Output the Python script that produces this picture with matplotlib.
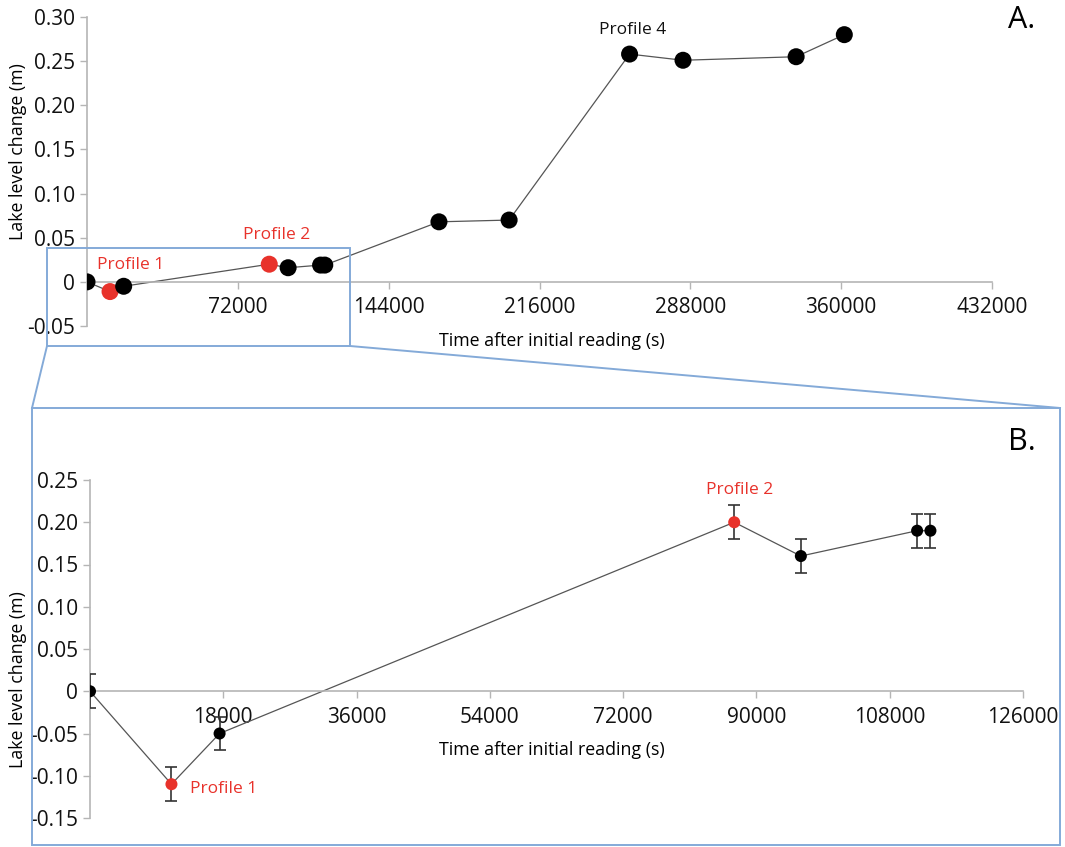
import matplotlib
matplotlib.use("Agg")
import matplotlib.pyplot as plt
from matplotlib.patches import Rectangle
from matplotlib.lines import Line2D

plt.rcParams['font.family'] = ['Open Sans', 'DejaVu Sans']

# ---------------- data ----------------
# Panel A (full record)
time_a = [0, 11000, 17500, 87000, 96000, 111500, 113500,
          168000, 201500, 259000, 284500, 338500, 361500]
level_a = [0.0, -0.011, -0.005, 0.020, 0.016, 0.019, 0.019,
           0.068, 0.070, 0.258, 0.251, 0.255, 0.280]
red_idx_a = [1, 3]          # Profile 1, Profile 2

# Panel B (zoom on first readings)
time_b = [0, 11000, 17500, 87000, 96000, 111700, 113500]
level_b = [0.0, -0.11, -0.05, 0.20, 0.16, 0.19, 0.19]
err_b = [0.02, 0.02, 0.02, 0.02, 0.02, 0.02, 0.02]
red_idx_b = [1, 3]

xticks_a = [72000, 144000, 216000, 288000, 360000, 432000]
xticklabels_a = ["72000", "144000", "216000", "288000", "360000", "432000"]
yticks_a = [-0.05, 0, 0.05, 0.10, 0.15, 0.20, 0.25, 0.30]
yticklabels_a = ["-0.05", "0", "0.05", "0.10", "0.15", "0.20", "0.25", "0.30"]

xticks_b = [18000, 36000, 54000, 72000, 90000, 108000, 126000]
xticklabels_b = ["18000", "36000", "54000", "72000", "90000", "108000", "126000"]
yticks_b = [-0.15, -0.10, -0.05, 0, 0.05, 0.10, 0.15, 0.20, 0.25]
yticklabels_b = ["-0.15", "-0.10", "-0.05", "0", "0.05", "0.10", "0.15", "0.20", "0.25"]

xlabel = "Time after initial reading (s)"
ylabel = "Lake level change (m)"

# ---------------- layout ----------------
W, H = 1065, 847
fig = plt.figure(figsize=(W / 100, H / 100), dpi=100)


def px_axes(x0, y0, x1, y1):
    return fig.add_axes([x0 / W, 1 - y1 / H, (x1 - x0) / W, (y1 - y0) / H])


RED = "#e8322b"
SPINE = "#b5b5b5"
LINE = "#555555"
BLUE = "#84aad8"


def style_axes(ax):
    for s in ("top", "right"):
        ax.spines[s].set_visible(False)
    ax.spines["bottom"].set_position(("data", 0))
    for s in ("left", "bottom"):
        ax.spines[s].set_color(SPINE)
        ax.spines[s].set_linewidth(1.2)
    ax.tick_params(axis="both", colors=SPINE, labelcolor="#111111",
                   labelsize=15, length=5, width=1.0, direction="out")
    ax.patch.set_alpha(0)


# Panel A
axA = px_axes(87, 17, 992, 326)
axA.set_xlim(0, 432000)
axA.set_ylim(-0.05, 0.30)
style_axes(axA)
axA.plot(time_a, level_a, color=LINE, lw=0.9, zorder=2)
colors_a = [RED if i in red_idx_a else "black" for i in range(len(time_a))]
axA.scatter(time_a, level_a, s=150, c=colors_a, zorder=3, linewidths=0)
axA.set_xticks(xticks_a)
axA.set_xticklabels(xticklabels_a)
axA.set_yticks(yticks_a)
axA.set_yticklabels(yticklabels_a)
axA.tick_params(axis="x", pad=6)
axA.annotate("Profile 1", (time_a[1], level_a[1]), xytext=(-13, 27),
             textcoords="offset pixels", color=RED, fontsize=12.5,
             ha="left", va="center")
axA.annotate("Profile 2", (time_a[3], level_a[3]), xytext=(7, 29),
             textcoords="offset pixels", color=RED, fontsize=12.5,
             ha="center", va="center")
axA.annotate("Profile 4", (time_a[9], level_a[9]), xytext=(3, 24),
             textcoords="offset pixels", color="#111111", fontsize=12.5,
             ha="center", va="center")
fig.text(552 / W, 1 - 341 / H, xlabel, fontsize=12.8, ha="center", va="center")
fig.text(18 / W, 1 - 152 / H, ylabel, fontsize=12.8, ha="center", va="center",
         rotation=90)
fig.text(1022 / W, 1 - 20 / H, "A.", fontsize=22, ha="center", va="center")

# Panel B
axB = px_axes(90, 480, 1023, 818)
axB.set_xlim(0, 126000)
axB.set_ylim(-0.15, 0.25)
style_axes(axB)
axB.plot(time_b, level_b, color=LINE, lw=0.9, zorder=2)
axB.errorbar(time_b, level_b, yerr=err_b, fmt="none", ecolor="#333333",
             elinewidth=1.2, capsize=4, capthick=1.2, zorder=3)
colors_b = [RED if i in red_idx_b else "black" for i in range(len(time_b))]
axB.scatter(time_b, level_b, s=75, c=colors_b, zorder=4, linewidths=0)
axB.set_xticks(xticks_b)
axB.set_xticklabels(xticklabels_b)
axB.set_yticks(yticks_b)
axB.set_yticklabels(yticklabels_b)
axB.tick_params(axis="x", pad=6)
axB.annotate("Profile 1", (time_b[1], level_b[1]), xytext=(19, -5),
             textcoords="offset pixels", color=RED, fontsize=12.5,
             ha="left", va="center")
axB.annotate("Profile 2", (time_b[3], level_b[3]), xytext=(5, 32),
             textcoords="offset pixels", color=RED, fontsize=12.5,
             ha="center", va="center")
fig.text(552 / W, 1 - 750 / H, xlabel, fontsize=12.8, ha="center", va="center")
fig.text(18 / W, 1 - 680 / H, ylabel, fontsize=12.8, ha="center", va="center",
         rotation=90)
fig.text(1022 / W, 1 - 442 / H, "B.", fontsize=22, ha="center", va="center")

# Zoom box and connector lines (figure pixel coordinates)
def fx(x):
    return x / W


def fy(y):
    return 1 - y / H


fig.add_artist(Rectangle((fx(47), fy(346)), (350 - 47) / W, (346 - 248) / H,
                         transform=fig.transFigure, fill=False,
                         edgecolor=BLUE, lw=1.4))
fig.add_artist(Rectangle((fx(32), fy(845)), (1060 - 32) / W, (845 - 408) / H,
                         transform=fig.transFigure, fill=False,
                         edgecolor=BLUE, lw=1.4))
fig.add_artist(Line2D([fx(47), fx(32)], [fy(346), fy(408)],
                      transform=fig.transFigure, color=BLUE, lw=1.4))
fig.add_artist(Line2D([fx(350), fx(1060)], [fy(346), fy(408)],
                      transform=fig.transFigure, color=BLUE, lw=1.4))

fig.savefig("out.png", dpi=100)
